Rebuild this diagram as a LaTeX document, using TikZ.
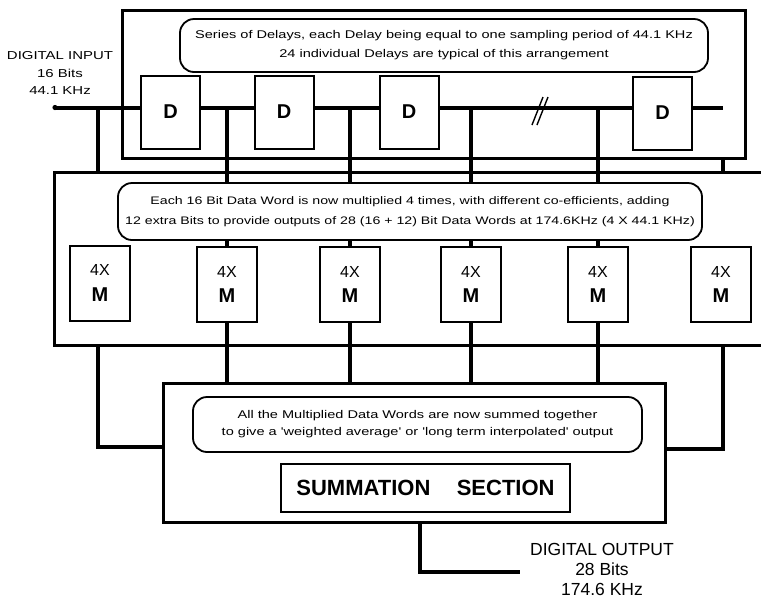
\documentclass[tikz,border=0pt]{standalone}
\usepackage{fontspec}
\setmainfont{Liberation Sans}
\newfontfamily\bubblefont[FakeStretch=1.3]{Liberation Sans}
\begin{document}
\begin{tikzpicture}[x=1pt,y=-1pt,
  sig/.style={line width=4pt},
  framebox/.style={draw,line width=3pt,inner sep=0pt},
  dbox/.style={draw,line width=2pt,minimum width=59pt,minimum height=73pt,inner sep=0pt,font=\bfseries\fontsize{20}{20}\selectfont},
  mbox/.style={draw,line width=2pt,minimum width=60pt,minimum height=75pt,inner sep=0pt,align=center},
  bubble/.style={draw,line width=1.8pt,rounded corners=14pt,inner sep=0pt,align=center},
  lbl/.style={align=center,inner sep=0pt}
]
\useasboundingbox (0,0) rectangle (761,598);
\fill[white] (0,0) rectangle (761,598);

% delay frame
\node[framebox,minimum width=623pt,minimum height=148pt] (delayframe) at (433.5,84) {};
% multiplier frame (open to the right)
\coordinate (mtl) at (54,172);
\coordinate (mtr) at (765,172);
\coordinate (mbl) at (54,345);
\coordinate (mbr) at (765,345);
\draw[line width=3pt] (mtr) -- (mtl) -- (mbl) -- (mbr);
% summation frame
\node[framebox,minimum width=502pt,minimum height=139pt] (sum) at (414,452.5) {};

% bubbles
\node[bubble,minimum width=528pt,minimum height=53pt,font=\bubblefont\fontsize{11.2}{19}\selectfont] (b1) at (444,45.5)
  {Series of Delays, each Delay being equal to one sampling period of 44.1 KHz\\24 individual Delays are typical of this arrangement};
\node[bubble,minimum width=584pt,minimum height=57pt,font=\bubblefont\fontsize{10.9}{20}\selectfont] (b2) at (410,211.5)
  {Each 16 Bit Data Word is now multiplied 4 times, with different co-efficients, adding\\12 extra Bits to provide outputs of 28 (16 + 12) Bit Data Words at 174.6KHz (4 X 44.1 KHz)};
\node[bubble,minimum width=449pt,minimum height=55pt,font=\bubblefont\fontsize{11.2}{17}\selectfont] (b3) at (417.5,424.5)
  {All the Multiplied Data Words are now summed together\\to give a 'weighted average' or 'long term interpolated' output};

% summation label
\node[draw,line width=2pt,minimum width=289pt,minimum height=48pt,inner sep=0pt,font=\bfseries\fontsize{22}{22}\selectfont] (sumlabel) at (425.5,488) {SUMMATION\hspace{1.2em}SECTION};

% delays
\node[dbox] (d1) at (170.5,112) {D};
\node[dbox] (d2) at (284,112) {D};
\node[dbox] (d3) at (409,112) {D};
\node[dbox] (d4) at (662.5,113) {D};

% multipliers
\newcommand{\mtext}{{\fontsize{16}{16}\selectfont 4X}\\[11pt]{\bfseries\fontsize{20}{20}\selectfont M}}
\node[mbox] (m1) at (100,283) {\mtext};
\node[mbox] (m2) at (227,284.5) {\mtext};
\node[mbox] (m3) at (350,284.5) {\mtext};
\node[mbox] (m4) at (471,284.5) {\mtext};
\node[mbox] (m5) at (598,284.5) {\mtext};
\node[mbox] (m6) at (721,284.5) {\mtext};

% labels
\node[lbl,font=\bubblefont\fontsize{11.5}{17.5}\selectfont] (inlbl) at (60,73) {DIGITAL INPUT\\16 Bits\\44.1 KHz};
\node[lbl,font=\fontsize{17.5}{20}\selectfont] (outlbl) at (602,569) {DIGITAL OUTPUT\\28 Bits\\174.6 KHz};

% signal line
\coordinate (in) at (55,107.5);
\coordinate (t0) at (98,107.5);
\coordinate (t1) at (227,107.5);
\coordinate (t2) at (350,107.5);
\coordinate (t3) at (471,107.5);
\coordinate (t4) at (598,107.5);
\coordinate (tend) at (723,107.5);
\fill (in) circle (2.6pt);
\draw[sig] (in) -- (in -| d1.west);
\draw[sig] (d1.east |- in) -- (d2.west |- in);
\draw[sig] (d2.east |- in) -- (d3.west |- in);
\draw[sig] (d3.east |- in) -- (d4.west |- in);
\draw[sig] (d4.east |- in) -- (tend);
% break mark
\coordinate (brk) at (540,111);
\draw[line width=1.4pt] ([shift={(-8,14)}]brk) -- ([shift={(3,-14)}]brk);
\draw[line width=1.4pt] ([shift={(-3,14)}]brk) -- ([shift={(8,-14)}]brk);

% tap from input
\draw[sig] (t0) -- (t0 |- mtl);
\coordinate (j0) at (98,447);
\draw[sig] (t0 |- mbl) -- (j0) -- (j0 -| sum.west);

% taps to multipliers
\foreach \t/\m in {t1/m2,t2/m3,t3/m4,t4/m5}{
  \draw[sig] (\t) -- (\t |- b2.north);
  \draw[sig] (\m.north |- b2.south) -- (\m.north);
  \draw[sig] (\m.south) -- (\m.south |- sum.north);
}

% last tap
\draw[sig] (tend |- delayframe.south) -- (tend |- mtl);
\coordinate (j6) at (723,449);
\draw[sig] (tend |- mbl) -- (j6) -- (j6 -| sum.east);

% output
\coordinate (o1) at (420,572);
\coordinate (oend) at (520,572);
\draw[sig] (o1 |- sum.south) -- (o1) -- (oend);
\end{tikzpicture}
\end{document}
